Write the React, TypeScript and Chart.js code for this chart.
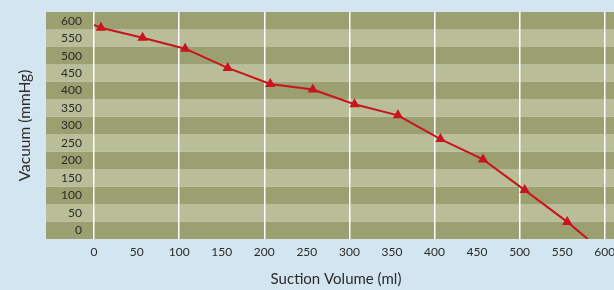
import React, { useEffect, useRef } from "react";
import { Chart, registerables } from "chart.js";

Chart.register(...registerables);

const xValues = [0, 8, 57, 107, 157, 207, 257, 306, 357, 407, 457, 506, 556, 580];
const vacuumValues = [588, 580, 551, 520, 465, 419, 403, 361, 329, 261, 203, 115, 24, -25];
const markerRadii = [0, 6, 6, 6, 6, 6, 6, 6, 6, 6, 6, 6, 6, 0];
const yTickValues = [0, 50, 100, 150, 200, 250, 300, 350, 400, 450, 500, 550, 600];
const xTickValues = [0, 50, 100, 150, 200, 250, 300, 350, 400, 450, 500, 550, 600];

const BG = "#d3e5f0";
const BAND_DARK = "#9ca070";
const BAND_LIGHT = "#b9be98";
const RED = "#c8141e";
const TEXT = "#2b2b2b";
const FONT = "Lato, 'Open Sans', sans-serif";

const bandsPlugin = {
  id: "bands",
  beforeDraw(chart: any) {
    const { ctx, chartArea, scales } = chart;
    const y = scales.y;
    ctx.save();
    yTickValues.forEach((v, i) => {
      const top = y.getPixelForValue(v + 25);
      const bottom = y.getPixelForValue(v - 25);
      ctx.fillStyle = (yTickValues.length - 1 - i) % 2 === 0 ? BAND_DARK : BAND_LIGHT;
      ctx.fillRect(chartArea.left, top, chartArea.right - chartArea.left, bottom - top);
    });
    ctx.restore();
  },
};

export default function App() {
  const ref = useRef<HTMLCanvasElement>(null);
  useEffect(() => {
    const canvas = ref.current!;
    const chart = new Chart(canvas, {
      type: "line",
      data: {
        datasets: [
          {
            data: xValues.map((x, i) => ({ x, y: vacuumValues[i] })),
            borderColor: RED,
            backgroundColor: RED,
            borderWidth: 2,
            pointStyle: "triangle",
            pointRadius: markerRadii,
            pointHoverRadius: markerRadii,
            pointBorderWidth: 0,
            tension: 0,
          },
        ],
      },
      options: {
        animation: false,
        responsive: false,
        layout: { padding: { left: 0, right: 0, top: 12, bottom: 0 } },
        plugins: { legend: { display: false }, tooltip: { enabled: false } },
        scales: {
          x: {
            type: "linear",
            min: -56.5,
            max: 625,
            afterBuildTicks: (axis: any) => {
              axis.ticks = xTickValues.map((v) => ({ value: v }));
            },
            afterFit: (axis: any) => {
              axis.height = 51;
              axis.paddingLeft = 0;
              axis.paddingRight = 0;
            },
            grid: {
              drawTicks: false,
              color: (c: any) => (c.tick && c.tick.value % 100 === 0 ? "#ffffff" : "rgba(0,0,0,0)"),
              lineWidth: 1.5,
            },
            border: { display: false },
            ticks: {
              padding: 6,
              maxRotation: 0,
              autoSkip: false,
              color: TEXT,
              font: { family: FONT, size: 12 },
            },
            title: {
              display: true,
              text: "Suction Volume (ml)",
              color: TEXT,
              font: { family: FONT, size: 15 },
              padding: { top: 0, bottom: 2 },
            },
          },
          y: {
            type: "linear",
            min: -25,
            max: 625,
            afterBuildTicks: (axis: any) => {
              axis.ticks = yTickValues.map((v) => ({ value: v }));
            },
            afterFit: (axis: any) => {
              axis.width = 46;
              axis.paddingTop = 0;
              axis.paddingBottom = 0;
            },
            grid: { display: false, drawTicks: false },
            border: { display: false },
            ticks: {
              mirror: true,
              crossAlign: "far",
              padding: 15,
              autoSkip: false,
              color: TEXT,
              font: { family: FONT, size: 12 },
            },
            title: {
              display: true,
              text: "Vacuum (mmHg)",
              color: TEXT,
              font: { family: FONT, size: 15.5 },
              padding: { top: 16, bottom: 0 },
            },
          },
        },
      },
      plugins: [bandsPlugin],
    });
    return () => chart.destroy();
  }, []);

  return (
    <div
      style={{
        position: "fixed",
        left: 0,
        top: 0,
        width: 614,
        height: 290,
        overflow: "hidden",
        background: BG,
      }}
    >
      <canvas ref={ref} width={626} height={290} style={{ display: "block" }} />
    </div>
  );
}
